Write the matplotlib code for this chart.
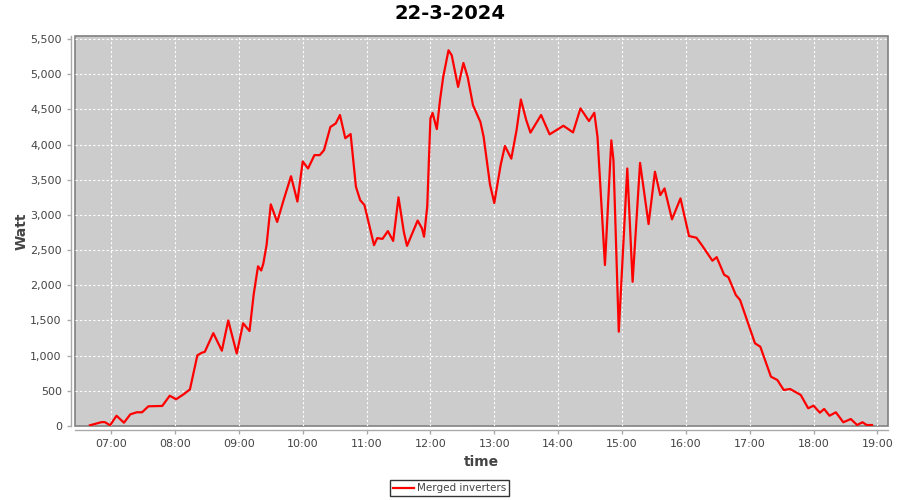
import matplotlib
matplotlib.use("Agg")
import matplotlib.pyplot as plt
from matplotlib.patches import Rectangle
from matplotlib.ticker import FuncFormatter, MultipleLocator

times = ["06:40", "06:51", "06:54", "06:59", "07:05", "07:12", "07:18", "07:24", "07:29", "07:35",
         "07:48", "07:55", "08:01", "08:08", "08:14", "08:21", "08:25", "08:28", "08:36", "08:44",
         "08:50", "08:58", "09:04", "09:10", "09:14", "09:18", "09:21", "09:23", "09:26", "09:30",
         "09:36", "09:42", "09:49", "09:55", "10:00", "10:05", "10:11", "10:16", "10:20", "10:26",
         "10:31", "10:35", "10:40", "10:45", "10:50", "10:54", "10:58", "11:07", "11:10", "11:15",
         "11:20", "11:25", "11:30", "11:35", "11:38", "11:43", "11:48", "11:52", "11:54", "11:57",
         "12:00", "12:02", "12:06", "12:09", "12:12", "12:17", "12:20", "12:26", "12:31", "12:35",
         "12:40", "12:47", "12:50", "12:56", "13:00", "13:06", "13:10", "13:16", "13:21", "13:25",
         "13:30", "13:34", "13:44", "13:52", "14:05", "14:14", "14:21", "14:29", "14:34", "14:37",
         "14:44", "14:50", "14:52", "14:57", "15:05", "15:10", "15:17", "15:25", "15:31", "15:36",
         "15:40", "15:47", "15:55", "16:03", "16:10", "16:15", "16:25", "16:29", "16:36", "16:40",
         "16:47", "16:51", "17:05", "17:10", "17:20", "17:26", "17:32", "17:38", "17:48", "17:55",
         "18:00", "18:06", "18:10", "18:15", "18:21", "18:28", "18:35", "18:41", "18:46", "18:50",
         "18:55"]
watts = [10, 55, 55, 10, 146, 47, 166, 195, 195, 280,
         285, 430, 380, 450, 520, 1005, 1040, 1055, 1320, 1070,
         1500, 1030, 1460, 1350, 1880, 2270, 2210, 2310, 2570, 3150,
         2900, 3210, 3550, 3190, 3760, 3660, 3850, 3850, 3920, 4250,
         4300, 4420, 4090, 4150, 3400, 3210, 3140, 2570, 2670, 2660,
         2770, 2630, 3250, 2760, 2560, 2740, 2920, 2810, 2690, 3120,
         4370, 4450, 4220, 4630, 4960, 5340, 5270, 4820, 5160, 4960,
         4560, 4320, 4110, 3430, 3170, 3710, 3980, 3800, 4210, 4640,
         4350, 4170, 4420, 4145, 4267, 4173, 4514, 4334, 4452, 4111,
         2288, 4060, 3780, 1340, 3660, 2050, 3740, 2870, 3614, 3282,
         3377, 2937, 3235, 2700, 2676, 2572, 2349, 2400, 2150, 2115,
         1862, 1790, 1175, 1127, 701, 654, 512, 526, 441, 252,
         289, 189, 242, 146, 195, 53, 99, 14, 53, 14,
         14]
title = "22-3-2024"
series_name = "Merged inverters"
x_label = "time"
y_label = "Watt"

def to_hours(s):
    h, m = s.split(":")
    return int(h) + int(m) / 60.0

xh = [to_hours(t) for t in times]

fig = plt.figure(figsize=(9, 5), dpi=100)
fig.patch.set_facecolor("white")
ax = fig.add_axes([75/900, 1 - 426/500, 813/900, 390/500])
ax.set_facecolor("none")
bg = Rectangle((0, 0), 1, 1, transform=ax.transAxes, facecolor="#cccccc",
               edgecolor="#808080", linewidth=1.2, zorder=-10, clip_on=False)
ax.add_patch(bg)

ax.plot(xh, watts, color="#ff0000", linewidth=1.6, label=series_name, zorder=3)

ax.set_xlim(6 + 26/60, 19 + 10/60)
ax.set_ylim(0, 5543)
ax.yaxis.set_major_locator(MultipleLocator(500))
ax.xaxis.set_major_locator(MultipleLocator(1))
ax.yaxis.set_major_formatter(FuncFormatter(lambda v, p: f"{int(v):,}"))
ax.xaxis.set_major_formatter(FuncFormatter(lambda v, p: f"{int(round(v)):02d}:00"))

ax.grid(True, color="white", linestyle=(0, (2, 2)), linewidth=0.8)
ax.set_axisbelow(True)

for s in ["top", "right"]:
    ax.spines[s].set_visible(False)
for s in ["left", "bottom"]:
    ax.spines[s].set_position(("outward", 3))
    ax.spines[s].set_color("#aaaaaa")
    ax.spines[s].set_linewidth(1.0)

ax.tick_params(axis="both", colors="#aaaaaa", length=3, width=1, labelcolor="#444444",
               labelsize=8)

fig.text(0.5, 1 - 13.5/500, title, fontsize=14, fontweight="bold", color="black",
         ha="center", va="center")
ax.set_xlabel(x_label, fontsize=10, fontweight="bold", color="#444444", labelpad=4)
ax.set_ylabel(y_label, fontsize=10, fontweight="bold", color="#444444", labelpad=1)

leg = fig.legend(loc="lower center", bbox_to_anchor=(0.4993, 0.003), fontsize=7.5,
                 frameon=True, fancybox=False, handlelength=2.0, handletextpad=0.3,
                 borderpad=0.3, borderaxespad=0.2)
leg.get_frame().set_edgecolor("black")
leg.get_frame().set_linewidth(1.0)
for t in leg.get_texts():
    t.set_color("#444444")

fig.savefig("out.png", dpi=100)
